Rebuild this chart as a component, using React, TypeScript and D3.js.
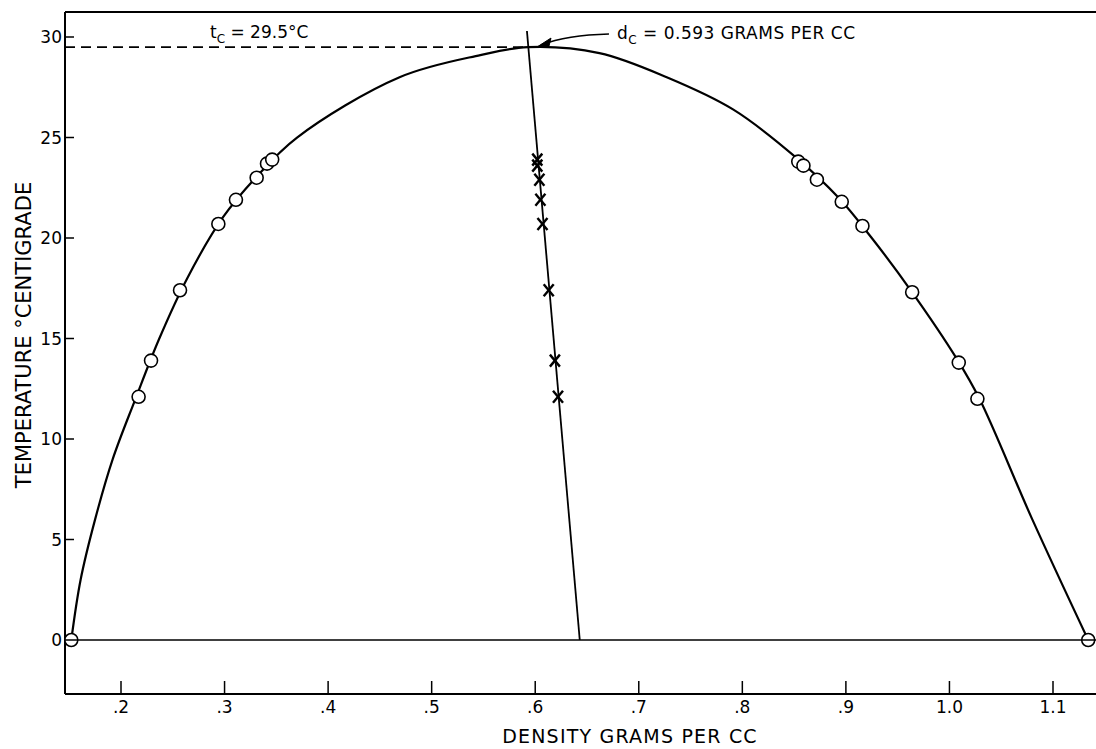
import React from 'react';
import * as d3 from 'd3';

// measured points: vapour branch (left) and liquid branch (right), open circles
const vaporTemp = [0, 12.1, 13.9, 17.4, 20.7, 21.9, 23.0, 23.7, 23.9];
const vaporDensity = [0.152, 0.217, 0.229, 0.257, 0.294, 0.311, 0.331, 0.341, 0.346];
const liquidTemp = [23.8, 23.6, 22.9, 21.8, 20.6, 17.3, 13.8, 12.0, 0];
const liquidDensity = [0.854, 0.859, 0.872, 0.896, 0.916, 0.964, 1.009, 1.027, 1.134];

// mean densities (crosses)
const meanTemp = [23.9, 23.6, 22.9, 21.9, 20.7, 17.4, 13.9, 12.1];
const meanDensity = [0.602, 0.602, 0.604, 0.605, 0.607, 0.613, 0.619, 0.622];

// fitted coexistence curve
const curveDensity = [0.152, 0.161, 0.175, 0.192, 0.214, 0.237, 0.264, 0.298, 0.330, 0.370, 0.469, 0.547, 0.593, 0.662, 0.727, 0.791, 0.852, 0.893, 0.925, 0.964, 1.007, 1.029, 1.08, 1.134];
const curveTemp = [0, 3, 6, 9, 12, 15, 18, 21, 23, 25, 28.0, 29.1, 29.5, 29.2, 28.0, 26.4, 24, 22, 20, 17.3, 14, 12, 6, 0];

// rectilinear diameter
const diamDensity = [0.592, 0.643];
const diamTemp = [30.3, 0];

const criticalTemp = 29.5;
const criticalDensity = 0.593;

const xTicks = [0.2, 0.3, 0.4, 0.5, 0.6, 0.7, 0.8, 0.9, 1.0, 1.1];
const xTickLabels = ['.2', '.3', '.4', '.5', '.6', '.7', '.8', '.9', '1.0', '1.1'];
const yTicks = [0, 5, 10, 15, 20, 25, 30];

const W = 1096;
const H = 749;
const left = 65;
const top = 12;
const bottom = 694;
const font = '"DejaVu Sans", sans-serif';

const App = () => {
  const x = d3.scaleLinear().domain([0.2, 1.1]).range([121, 1053]);
  const y = d3.scaleLinear().domain([0, 30]).range([640, 37]);

  const curve = d3
    .line<number>()
    .x(i => x(curveDensity[i]))
    .y(i => y(curveTemp[i]))
    .curve(d3.curveCatmullRom.alpha(0.5))(curveDensity.map((_, i) => i));

  const tipX = x(criticalDensity) + 9;
  const tipY = y(criticalTemp);
  const arrow = `M${tipX + 72},${tipY - 13} Q${tipX + 30},${tipY - 12} ${tipX + 4},${tipY - 2}`;

  return (
    <svg width={W} height={H} style={{ position: 'absolute', left: 0, top: 0, background: '#fff' }}>
      {/* frame */}
      <line x1={left} y1={top} x2={W} y2={top} stroke="#000" strokeWidth={2} />
      <line x1={left} y1={top} x2={left} y2={bottom} stroke="#000" strokeWidth={2} />
      <line x1={left} y1={bottom} x2={W} y2={bottom} stroke="#000" strokeWidth={2} />

      {/* y ticks */}
      {yTicks.map(t => (
        <g key={t}>
          <line x1={left} x2={left + 9} y1={y(t)} y2={y(t)} stroke="#000" strokeWidth={1.5} />
          <text x={left - 3} y={y(t)} dy="0.36em" textAnchor="end" fontSize={17} fontFamily={font}>
            {t}
          </text>
        </g>
      ))}

      {/* x ticks */}
      {xTicks.map((t, i) => (
        <g key={t}>
          <line x1={x(t)} x2={x(t)} y1={bottom} y2={bottom - 13} stroke="#000" strokeWidth={1.5} />
          <text x={x(t)} y={bottom + 19} textAnchor="middle" fontSize={17} fontFamily={font}>
            {xTickLabels[i]}
          </text>
        </g>
      ))}

      <text x={630} y={743} textAnchor="middle" fontSize={19} fontFamily={font} letterSpacing={1.2}>
        DENSITY GRAMS PER CC
      </text>
      <text
        transform={`translate(31,335) rotate(-90)`}
        textAnchor="middle"
        fontSize={21}
        fontFamily={font}
      >
        TEMPERATURE °CENTIGRADE
      </text>

      {/* critical temperature dashed line */}
      <line
        x1={left}
        x2={x(criticalDensity)}
        y1={y(criticalTemp)}
        y2={y(criticalTemp)}
        stroke="#000"
        strokeWidth={1.8}
        strokeDasharray="10 6"
      />

      <path d={curve || ''} fill="none" stroke="#000" strokeWidth={2.2} />

      <line
        x1={x(diamDensity[0])}
        y1={y(diamTemp[0])}
        x2={x(diamDensity[1])}
        y2={y(diamTemp[1])}
        stroke="#000"
        strokeWidth={1.8}
      />

      {vaporDensity.map((d, i) => (
        <circle key={'v' + i} cx={x(d)} cy={y(vaporTemp[i])} r={6.5} fill="#fff" stroke="#000" strokeWidth={1.6} />
      ))}
      {liquidDensity.map((d, i) => (
        <circle key={'l' + i} cx={x(d)} cy={y(liquidTemp[i])} r={6.5} fill="#fff" stroke="#000" strokeWidth={1.6} />
      ))}

      {/* zero line drawn over circles */}
      <line x1={left} x2={W} y1={y(0)} y2={y(0)} stroke="#000" strokeWidth={1.6} />

      {meanDensity.map((d, i) => {
        const cx = x(d);
        const cy = y(meanTemp[i]);
        return (
          <g key={'m' + i} stroke="#000" strokeWidth={2.4}>
            <line x1={cx - 5} y1={cy - 6} x2={cx + 5} y2={cy + 6} />
            <line x1={cx - 5} y1={cy + 6} x2={cx + 5} y2={cy - 6} />
          </g>
        );
      })}

      {/* annotations */}
      <text x={210} y={38} fontSize={17} fontFamily={font}>
        t<tspan fontSize={12} dy={5}>C</tspan>
        <tspan dy={-5}> = 29.5°C</tspan>
      </text>
      <text x={617} y={39} fontSize={17} fontFamily={font} letterSpacing={0.5}>
        d<tspan fontSize={12} dy={5}>C</tspan>
        <tspan dy={-5}> = 0.593 GRAMS PER CC</tspan>
      </text>
      <path d={arrow} fill="none" stroke="#000" strokeWidth={1.5} />
      <path
        d={`M${tipX},${tipY} l14,-9 l-2,8 z`}
        fill="#000"
        stroke="#000"
        strokeWidth={1}
      />
    </svg>
  );
};

export default App;
